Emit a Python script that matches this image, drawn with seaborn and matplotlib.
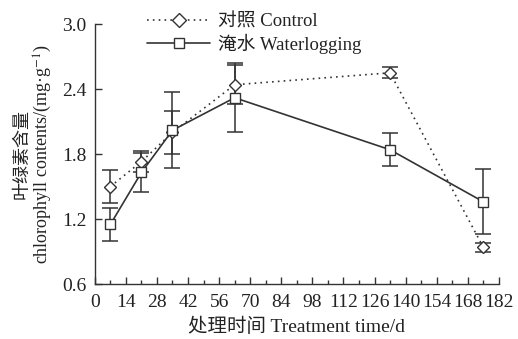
import matplotlib
matplotlib.use('Agg')
import matplotlib.pyplot as plt
from matplotlib.ticker import MultipleLocator
import seaborn as sns
import pandas as pd

days = [7, 21, 35, 63, 133, 175]
control = [1.50, 1.73, 2.00, 2.44, 2.55, 0.94]
control_err = [0.15, 0.10, 0.20, 0.18, 0.05, 0.04]
water = [1.15, 1.63, 2.02, 2.32, 1.84, 1.36]
water_err = [0.15, 0.18, 0.35, 0.32, 0.15, 0.30]

df = pd.DataFrame({'day': days * 2,
                   'value': control + water,
                   'group': ['对照 Control'] * 6 + ['淹水 Waterlogging'] * 6})

sns.set_style('ticks')
plt.rcParams['font.family'] = ['Liberation Serif', 'Noto Sans CJK SC']
plt.rcParams['mathtext.fontset'] = 'stix'

fig = plt.figure(figsize=(5.18, 3.39), dpi=100)
ax = fig.add_axes([0.183, 0.162, 0.780, 0.767])

col = '#333333'
sns.lineplot(data=df, x='day', y='value', hue='group', style='group',
             palette=[col, col], dashes=[(1, 2.5), ''], markers=['D', 's'],
             markersize=7, markerfacecolor='white', markeredgecolor=col,
             markeredgewidth=1.0, linewidth=1.2, ax=ax, zorder=3)
# the diamonds are slightly smaller
for ln in ax.lines[:1]:
    ln.set_markersize(6)

ax.errorbar(days, control, yerr=control_err, fmt='none', ecolor=col,
            elinewidth=1.1, capsize=6, capthick=1.1, zorder=2)
ax.errorbar(days, water, yerr=water_err, fmt='none', ecolor=col,
            elinewidth=1.1, capsize=6, capthick=1.1, zorder=2)

ax.set_xlim(0, 182)
ax.set_ylim(0.6, 3.0)
ax.xaxis.set_major_locator(MultipleLocator(14))
ax.xaxis.set_minor_locator(MultipleLocator(7))
ax.yaxis.set_major_locator(MultipleLocator(0.6))
ax.set_yticklabels([f'{v:.1f}' for v in ax.get_yticks()])
ax.tick_params(which='both', direction='in', color=col, labelsize=14,
               labelcolor='#222222', width=1.0)
ax.tick_params(which='major', length=5)
ax.tick_params(which='minor', length=3)
ax.tick_params(axis='x', pad=7)
ax.tick_params(axis='y', pad=6)
sns.despine(ax=ax)
for s in ['left', 'bottom']:
    ax.spines[s].set_color(col)
    ax.spines[s].set_linewidth(1.0)

ax.set_xlabel('处理时间 Treatment time/d', fontsize=14, color='#222222',
              labelpad=5)
ax.set_ylabel('叶绿素含量\nchlorophyll contents/(mg·g$^{-1}$)', fontsize=13,
              color='#222222', linespacing=1.05, labelpad=6)

leg = ax.legend(loc='upper left', bbox_to_anchor=(0.11, 1.07), frameon=False,
                fontsize=13.5, handlelength=3.4, handletextpad=0.4,
                labelspacing=0.15, borderaxespad=0)
for t in leg.get_texts():
    t.set_color('#222222')

fig.savefig('out.png', dpi=100)
